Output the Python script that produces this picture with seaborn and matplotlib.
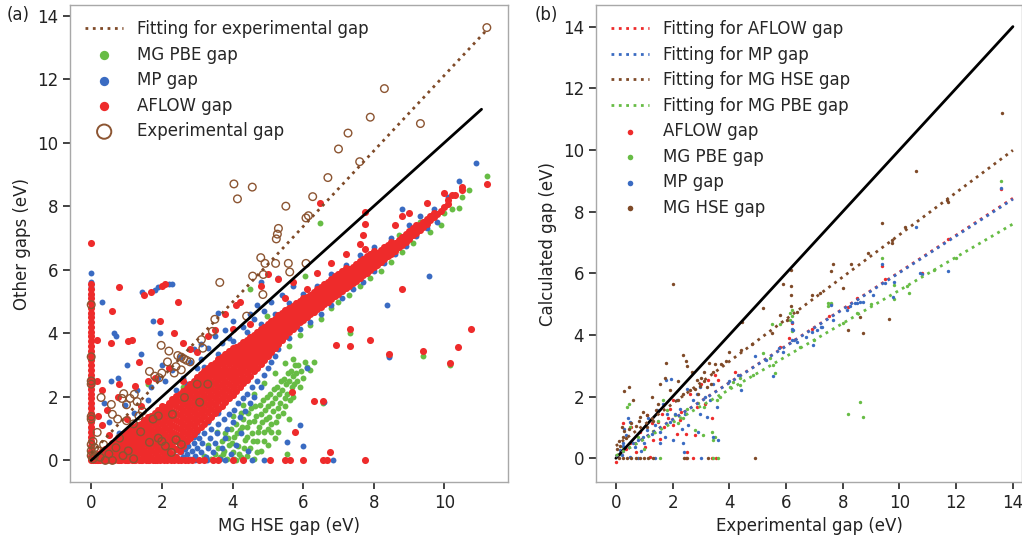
import numpy as np
import pandas as pd
import matplotlib
matplotlib.use('Agg')
import matplotlib.pyplot as plt
import seaborn as sns

sns.set_style('ticks')
plt.rcParams['font.family'] = ['DejaVu Sans']

GREEN = '#67bc45'
BLUE = '#3a6bc2'
RED = '#ee2b2b'
BROWN = '#7f4a28'
CIRCLE = '#8c5532'

# ---------------- panel (a): MG HSE gap vs other gaps ----------------
# dense AFLOW band, read column by column: (hse gap, [aflow gaps])
aflow_band = [
    (0.1, [0.0, 0.06, 0.12]), (0.2, [0.0, 0.1, 0.2]), (0.3, [0.03, 0.15, 0.28]),
    (0.4, [0.0, 0.12, 0.25, 0.37]), (0.5, [0.05, 0.2, 0.33, 0.46]),
    (0.6, [0.0, 0.14, 0.3, 0.44, 0.55]), (0.7, [0.06, 0.22, 0.38, 0.52, 0.64]),
    (0.8, [0.0, 0.16, 0.32, 0.47, 0.62, 0.72]), (0.9, [0.08, 0.25, 0.42, 0.58, 0.74, 0.82]),
    (1.0, [0.0, 0.18, 0.35, 0.52, 0.68, 0.84, 0.93]), (1.1, [0.1, 0.27, 0.45, 0.62, 0.79, 0.95]),
    (1.2, [0.0, 0.2, 0.38, 0.56, 0.74, 0.9, 1.04]), (1.3, [0.12, 0.3, 0.5, 0.68, 0.86, 1.02, 1.12]),
    (1.4, [0.02, 0.22, 0.42, 0.62, 0.8, 0.98, 1.16]), (1.5, [0.14, 0.34, 0.54, 0.74, 0.94, 1.12, 1.26]),
    (1.6, [0.0, 0.24, 0.46, 0.66, 0.86, 1.06, 1.24, 1.36]), (1.7, [0.12, 0.34, 0.56, 0.78, 1.0, 1.2, 1.4]),
    (1.8, [0.02, 0.24, 0.46, 0.68, 0.9, 1.12, 1.32, 1.5]), (1.9, [0.14, 0.36, 0.58, 0.8, 1.02, 1.24, 1.44, 1.6]),
    (2.0, [0.04, 0.26, 0.48, 0.7, 0.92, 1.14, 1.36, 1.56, 1.7]),
    (2.1, [0.16, 0.38, 0.6, 0.82, 1.04, 1.26, 1.48, 1.68]),
    (2.2, [0.06, 0.3, 0.52, 0.74, 0.96, 1.18, 1.4, 1.62, 1.82]),
    (2.3, [0.2, 0.44, 0.66, 0.88, 1.1, 1.32, 1.54, 1.76, 1.92]),
    (2.4, [0.1, 0.36, 0.6, 0.82, 1.04, 1.26, 1.48, 1.7, 1.9, 2.02]),
    (2.5, [0.3, 0.54, 0.76, 0.98, 1.2, 1.42, 1.64, 1.86, 2.08]),
    (2.6, [0.46, 0.7, 0.92, 1.14, 1.36, 1.58, 1.8, 2.02, 2.18]),
    (2.7, [0.6, 0.84, 1.06, 1.28, 1.5, 1.72, 1.94, 2.14, 2.28]),
    (2.8, [0.72, 0.96, 1.18, 1.4, 1.62, 1.84, 2.06, 2.26, 2.4]),
    (2.9, [0.84, 1.08, 1.3, 1.52, 1.74, 1.96, 2.18, 2.38, 2.5]),
    (3.0, [0.96, 1.2, 1.42, 1.64, 1.86, 2.08, 2.3, 2.5, 2.62]),
    (3.1, [1.06, 1.3, 1.52, 1.74, 1.96, 2.18, 2.4, 2.6, 2.72]),
    (3.2, [1.16, 1.4, 1.62, 1.84, 2.06, 2.28, 2.5, 2.7, 2.8]),
    (3.3, [1.28, 1.52, 1.74, 1.96, 2.18, 2.4, 2.62, 2.8, 2.9]),
    (3.4, [1.38, 1.62, 1.84, 2.06, 2.28, 2.5, 2.72, 2.9, 3.0]),
    (3.5, [1.5, 1.74, 1.96, 2.18, 2.4, 2.62, 2.82, 3.0, 3.08]),
    (3.6, [1.62, 1.86, 2.08, 2.3, 2.52, 2.72, 2.92, 3.1, 3.18]),
    (3.7, [1.72, 1.96, 2.18, 2.4, 2.62, 2.82, 3.02, 3.2, 3.26]),
    (3.8, [1.84, 2.06, 2.28, 2.5, 2.72, 2.92, 3.12, 3.28, 3.36]),
    (3.9, [1.96, 2.18, 2.4, 2.62, 2.82, 3.02, 3.22, 3.38, 3.44]),
    (4.0, [2.06, 2.3, 2.52, 2.72, 2.92, 3.12, 3.3, 3.46, 3.54]),
    (4.1, [2.18, 2.42, 2.62, 2.82, 3.02, 3.22, 3.4, 3.56]),
    (4.2, [2.3, 2.52, 2.74, 2.94, 3.12, 3.3, 3.48, 3.64]),
    (4.3, [2.42, 2.64, 2.84, 3.04, 3.22, 3.4, 3.58, 3.72]),
    (4.4, [2.54, 2.76, 2.96, 3.14, 3.32, 3.5, 3.66, 3.8]),
    (4.5, [2.66, 2.88, 3.08, 3.26, 3.44, 3.6, 3.76, 3.88]),
    (4.6, [2.8, 3.0, 3.2, 3.38, 3.54, 3.7, 3.84, 3.96]),
    (4.7, [2.92, 3.12, 3.3, 3.48, 3.64, 3.8, 3.94, 4.04]),
    (4.8, [3.04, 3.24, 3.42, 3.58, 3.74, 3.9, 4.04, 4.12]),
    (4.9, [3.16, 3.36, 3.54, 3.7, 3.86, 4.0, 4.12, 4.2]),
    (5.0, [3.28, 3.48, 3.64, 3.8, 3.96, 4.1, 4.22, 4.3]),
    (5.1, [3.42, 3.6, 3.76, 3.92, 4.06, 4.2, 4.32, 4.38]),
    (5.2, [3.54, 3.72, 3.88, 4.02, 4.16, 4.3, 4.4, 4.46]),
    (5.3, [3.66, 3.84, 4.0, 4.14, 4.28, 4.4, 4.5, 4.56]),
    (5.4, [3.8, 3.96, 4.12, 4.26, 4.38, 4.5, 4.6, 4.64]),
    (5.5, [3.92, 4.08, 4.22, 4.36, 4.48, 4.6, 4.7, 4.72]),
    (5.6, [4.04, 4.2, 4.34, 4.46, 4.58, 4.68, 4.78]),
    (5.7, [4.14, 4.3, 4.44, 4.56, 4.68, 4.78, 4.86]),
    (5.8, [4.24, 4.4, 4.54, 4.66, 4.78, 4.88, 4.94]),
    (5.9, [4.34, 4.5, 4.64, 4.76, 4.88, 4.96, 5.02]),
    (6.0, [4.42, 4.58, 4.72, 4.84, 4.96, 5.06, 5.12]),
    (6.1, [4.52, 4.68, 4.82, 4.94, 5.04, 5.14]), (6.2, [4.6, 4.76, 4.9, 5.02, 5.14, 5.22]),
    (6.3, [4.68, 4.84, 4.98, 5.1, 5.22, 5.3]), (6.4, [4.76, 4.92, 5.06, 5.18, 5.3, 5.38]),
    (6.5, [4.84, 5.0, 5.14, 5.26, 5.38, 5.46]), (6.6, [4.92, 5.08, 5.22, 5.34, 5.46, 5.54]),
    (6.7, [5.0, 5.16, 5.3, 5.42, 5.54, 5.62]), (6.8, [5.08, 5.24, 5.38, 5.5, 5.62, 5.7]),
    (6.9, [5.16, 5.32, 5.46, 5.58, 5.7, 5.8]), (7.0, [5.24, 5.4, 5.54, 5.66, 5.78, 5.88]),
    (7.1, [5.32, 5.48, 5.62, 5.74, 5.86, 5.96]), (7.2, [5.42, 5.56, 5.7, 5.82, 5.94, 6.04]),
    (7.3, [5.5, 5.64, 5.78, 5.9, 6.02]), (7.4, [5.58, 5.72, 5.86, 5.98, 6.1]),
    (7.5, [5.66, 5.8, 5.94, 6.06, 6.18]), (7.6, [5.74, 5.88, 6.02, 6.14, 6.26]),
    (7.7, [5.82, 5.96, 6.1, 6.22, 6.34]), (7.8, [5.9, 6.04, 6.18, 6.3, 6.42]),
    (7.9, [5.98, 6.12, 6.26, 6.38, 6.5]), (8.0, [6.08, 6.22, 6.34, 6.46, 6.58]),
    (8.1, [6.16, 6.3, 6.42, 6.54]), (8.2, [6.24, 6.38, 6.5, 6.62]),
    (8.3, [6.34, 6.46, 6.58, 6.7]), (8.4, [6.42, 6.54, 6.66, 6.78]),
    (8.5, [6.5, 6.64, 6.76, 6.86]), (8.6, [6.6, 6.72, 6.84]), (8.7, [6.7, 6.82, 6.94]),
    (8.8, [6.78, 6.9, 7.04]), (8.9, [6.88, 7.0, 7.12]), (9.0, [6.96, 7.1, 7.22]),
    (9.1, [7.08, 7.2, 7.3]), (9.2, [7.16, 7.3, 7.4]), (9.3, [7.26, 7.4]),
    (9.4, [7.36, 7.5]), (9.5, [7.44, 7.6]), (9.6, [7.56, 7.7]), (9.7, [7.66, 7.8]),
    (9.8, [7.76]), (9.9, [7.86]), (10.0, [7.96]), (10.1, [8.06, 8.2]),
    (10.3, [8.36]), (10.5, [8.5]),
]
# AFLOW points sitting on x = 0 (metals in HSE) and on y = 0
aflow_zero_y = [0.0, 0.15, 0.3, 0.45, 0.6, 0.75, 0.9, 1.05, 1.2, 1.35, 1.5, 1.65, 1.8,
                1.95, 2.1, 2.25, 2.4, 2.55, 2.7, 2.85, 3.0, 3.15, 3.3, 3.45, 3.6, 3.75,
                3.9, 4.05, 4.2, 4.35, 4.5, 4.65, 4.8, 4.95, 5.1, 5.25, 5.4, 5.55, 6.85]
aflow_floor_x = [0.05, 0.15, 0.25, 0.35, 0.45, 0.55, 0.65, 0.75, 0.85, 0.95, 1.05, 1.15,
                 1.25, 1.35, 1.45, 1.55, 1.65, 1.75, 1.85, 1.95, 2.05, 2.15, 2.25, 2.35,
                 2.45, 2.55, 2.65, 2.75, 2.85, 3.05, 3.2, 3.44, 3.6, 4.0, 4.3, 5.06, 5.48,
                 5.63, 6.0, 6.56, 6.68, 7.76]
aflow_scatter = [
    (0.15, 3.8), (0.55, 3.7), (0.6, 4.7), (0.8, 5.45), (1.5, 5.2), (1.7, 5.3), (2.0, 5.5),
    (2.1, 5.55), (2.45, 5.0), (1.05, 3.75), (1.15, 3.78), (1.35, 3.1), (1.95, 4.4),
    (0.8, 2.4), (0.75, 2.0), (1.25, 2.35), (1.6, 2.5), (2.35, 4.0), (3.5, 4.1), (4.2, 5.0),
    (4.1, 4.9), (3.8, 4.6), (4.8, 5.5), (5.0, 5.85), (5.3, 5.7), (5.7, 5.6), (6.48, 8.1),
    (7.76, 7.83), (7.76, 7.45), (7.7, 7.1), (7.75, 6.65), (8.8, 7.7), (10.74, 4.15),
    (10.37, 3.57), (10.15, 3.05), (9.4, 3.45), (8.42, 3.35), (7.9, 3.78), (7.33, 4.13),
    (7.33, 3.6), (6.93, 3.62), (8.8, 5.39), (6.55, 1.86), (6.3, 1.86), (5.77, 0.88),
    (6.76, 0.25), (5.68, 2.14), (0.2, 1.4), (0.45, 1.6), (0.3, 1.1), (0.15, 2.5),
    (0.3, 2.2), (2.6, 3.7), (3.0, 3.4), (2.2, 2.9), (1.8, 2.6), (2.8, 3.5), (3.3, 3.9),
    (4.5, 4.3), (4.0, 4.15), (5.5, 5.1), (6.1, 5.4), (6.4, 5.9), (6.8, 6.2), (7.2, 6.5),
    (7.6, 6.8), (8.6, 7.4), (9.0, 7.8), (9.5, 8.1), (10.0, 8.4), (10.5, 8.6), (11.2, 8.7),
    (10.2, 8.35), (0.5, 0.8), (1.0, 1.3), (1.4, 1.7), (2.6, 2.5),
]

mp_points = [
    # below the AFLOW band
    (2.3, 0.05), (2.4, 0.15), (2.5, 0.05), (2.55, 0.25), (2.6, 0.1), (2.65, 0.35),
    (2.7, 0.2), (2.75, 0.45), (2.8, 0.05), (2.85, 0.3), (2.9, 0.55), (2.95, 0.15),
    (3.0, 0.4), (3.05, 0.7), (3.1, 0.25), (3.15, 0.55), (3.2, 0.85), (3.25, 0.1),
    (3.3, 0.4), (3.35, 0.7), (3.4, 1.0), (3.45, 0.25), (3.5, 0.55), (3.55, 0.85),
    (3.6, 1.15), (3.65, 0.05), (3.7, 0.4), (3.75, 1.3), (3.8, 0.7), (3.85, 1.0),
    (3.9, 1.45), (3.95, 0.2), (4.0, 1.2), (4.05, 1.6), (4.1, 0.5), (4.15, 1.8),
    (4.2, 1.35), (4.25, 0.85), (4.3, 1.95), (4.35, 1.55), (4.4, 2.1), (4.45, 0.3),
    (4.5, 1.8), (4.55, 2.3), (4.6, 2.0), (4.7, 2.5), (4.8, 2.3), (4.9, 2.7), (5.0, 2.9),
    (5.1, 3.1), (5.2, 3.3), (3.3, 1.2), (3.6, 1.5), (3.0, 0.9), (2.9, 0.75),
    # edges of the band
    (5.3, 3.5), (5.6, 3.85), (5.9, 4.15), (6.2, 4.35), (6.5, 4.6), (6.8, 4.9), (7.1, 5.1),
    (7.4, 5.4), (7.7, 5.6), (8.0, 5.95), (8.3, 6.2), (8.6, 6.5), (8.9, 6.75), (9.2, 7.05),
    (9.5, 7.3), (9.8, 7.5), (3.2, 2.95), (3.6, 3.35), (4.0, 3.75), (4.4, 4.05), (4.8, 4.3),
    (5.2, 4.6), (5.6, 4.95), (6.0, 5.25), (6.4, 5.5), (6.8, 5.85), (7.2, 6.15), (7.6, 6.45),
    (8.0, 6.7), (8.5, 7.0), (9.0, 7.4), (9.3, 7.7), (9.7, 7.9), (10.1, 8.3), (10.4, 8.8),
    (10.9, 9.35),
    # above the band
    (0.3, 5.0), (0.65, 4.0), (0.7, 3.9), (1.45, 5.3), (1.8, 5.35), (1.9, 5.45), (2.2, 5.55),
    (2.3, 5.55), (1.75, 4.4), (1.95, 4.0), (1.4, 3.35), (1.0, 3.0), (0.75, 2.6), (0.55, 2.5),
    (0.35, 1.8), (0.5, 1.2), (0.95, 1.75), (1.2, 1.5), (1.3, 2.2), (1.6, 1.9), (1.7, 2.3),
    (1.9, 2.6), (2.1, 2.5), (2.0, 3.0), (2.3, 2.85), (2.5, 3.25), (2.6, 2.6), (2.8, 3.1),
    (2.9, 3.5), (3.1, 3.2), (3.3, 3.55), (3.5, 3.9), (3.7, 3.7), (3.8, 4.1), (4.0, 4.4),
    (4.3, 4.2), (4.5, 4.6), (4.7, 4.9), (3.6, 4.65), (3.0, 2.9), (2.7, 2.4), (1.1, 0.95),
    (0.8, 0.85), (2.4, 2.2), (3.9, 3.85), (4.6, 4.45), (4.9, 4.7), (5.1, 5.0), (5.4, 5.2),
    (5.7, 5.5), (4.8, 5.6), (5.3, 5.75), (3.1, 3.65),
    # x = 0 and y = 0
    (0.0, 5.9), (0.0, 5.6), (0.0, 5.45), (0.0, 5.2), (0.0, 4.6), (0.0, 4.2), (0.0, 3.3),
    (0.0, 2.6), (0.0, 2.2), (0.0, 1.7), (0.0, 1.0), (0.0, 0.6), (0.0, 0.3), (0.05, 0.1),
    (3.27, 0.0), (3.44, 0.0), (4.0, 0.0), (4.3, 0.0), (4.55, 0.0), (4.9, 0.0), (6.85, 0.0),
    (2.95, 0.0), (3.8, 0.0),
    # outliers
    (9.55, 5.8), (8.38, 4.9), (8.42, 3.25), (8.8, 7.9), (5.9, 1.1), (6.0, 0.45),
    (5.53, 0.57), (6.1, 2.9), (6.6, 1.85),
]

pbe_points = [
    (3.4, 0.05), (3.5, 0.2), (3.6, 0.4), (3.65, 0.1), (3.7, 0.6), (3.75, 0.3), (3.8, 0.85),
    (3.85, 0.05), (3.9, 0.5), (3.95, 1.0), (4.0, 0.25), (4.05, 0.75), (4.1, 1.15),
    (4.15, 0.45), (4.2, 0.95), (4.25, 0.1), (4.3, 1.3), (4.35, 0.65), (4.4, 1.05),
    (4.45, 1.5), (4.5, 0.4), (4.55, 0.85), (4.6, 1.25), (4.65, 1.7), (4.7, 0.6),
    (4.75, 1.05), (4.8, 1.45), (4.85, 1.9), (4.9, 0.9), (4.95, 1.3), (5.0, 1.7),
    (5.05, 2.1), (5.1, 1.15), (5.15, 1.55), (5.2, 1.95), (5.25, 2.3), (5.3, 1.4),
    (5.35, 1.8), (5.4, 2.2), (5.45, 2.55), (5.5, 1.7), (5.55, 2.1), (5.6, 2.5),
    (5.65, 2.8), (5.7, 2.0), (5.75, 2.4), (5.8, 2.75), (5.85, 3.0), (5.9, 2.3), (6.0, 2.6),
    (6.1, 2.95), (6.2, 2.85), (4.0, 1.4), (4.3, 1.75), (4.6, 2.1), (4.1, 0.0), (4.6, 0.05),
    (5.0, 0.5), (4.8, 0.3), (5.3, 0.9), (5.6, 1.3), (5.2, 0.7), (3.3, 0.5), (3.55, 0.9),
    (3.2, 0.15), (5.5, 3.05), (5.2, 2.75), (4.9, 2.45), (5.7, 3.2), (6.3, 3.1),
    (3.72, 0.2), (3.88, 0.72), (3.98, 0.55), (4.12, 0.85), (4.18, 0.2), (4.27, 1.05),
    (4.33, 0.4), (4.42, 0.75), (4.48, 1.2), (4.52, 1.65), (4.58, 0.6), (4.67, 1.4),
    (4.72, 0.9), (4.78, 1.75), (4.83, 1.2), (4.88, 0.6), (4.93, 1.6), (4.98, 2.0),
    (5.03, 1.35), (5.08, 0.9), (5.12, 1.8), (5.18, 2.25), (5.23, 1.2), (5.28, 1.65),
    (5.33, 2.1), (5.38, 2.5), (5.43, 1.5), (5.48, 1.95), (5.52, 2.4), (5.58, 2.75),
    (5.62, 1.9), (5.68, 2.3), (5.72, 2.65), (5.78, 3.0), (5.82, 2.5), (5.95, 2.8),
    (6.05, 3.1), (4.4, 0.15), (4.7, 0.25), (5.0, 1.0), (4.25, 1.5), (4.05, 0.05),
    (5.6, 3.6), (5.9, 3.95), (6.2, 4.25), (6.5, 4.45), (6.8, 4.8), (7.0, 5.0), (7.3, 5.2),
    (7.6, 5.5), (7.9, 5.75), (8.2, 5.95), (8.5, 6.25), (8.8, 6.55), (9.1, 6.85),
    (9.3, 7.5), (9.6, 7.2), (9.9, 7.4), (10.0, 7.8), (10.2, 7.9), (10.4, 7.95),
    (10.5, 8.3), (10.7, 8.5), (11.2, 8.95), (7.8, 6.35), (8.7, 7.1),
    (6.48, 7.48), (7.33, 4.0), (9.4, 3.3), (10.15, 3.0), (8.42, 3.3), (6.55, 1.8),
    (5.53, 0.2), (6.05, 5.8), (4.5, 5.39), (4.97, 4.54), (1.6, 2.4), (2.6, 2.3),
]

exp_points = [
    (11.2, 13.62), (8.3, 11.7), (7.9, 10.8), (9.32, 10.6), (7.27, 10.3), (7.0, 9.8),
    (7.6, 9.4), (6.7, 8.9), (4.04, 8.7), (4.14, 8.23), (4.56, 8.6), (6.27, 8.3),
    (5.51, 8.0), (6.08, 7.63), (6.15, 7.7), (5.3, 7.3), (5.27, 7.12), (5.24, 6.97),
    (4.8, 6.38), (4.92, 6.2), (5.22, 6.2), (5.58, 6.2), (6.08, 6.2), (4.57, 5.8),
    (4.87, 5.85), (5.62, 5.93), (3.64, 5.6), (4.86, 5.22), (4.4, 4.54), (3.5, 4.44),
    (3.43, 4.06), (3.12, 3.8), (3.16, 3.53), (1.98, 3.62), (2.2, 3.44), (2.45, 3.3),
    (2.55, 3.25), (2.62, 3.2), (2.7, 3.15), (2.8, 3.1), (2.4, 2.95), (2.55, 2.85),
    (2.35, 2.75), (2.0, 2.75), (1.8, 2.65), (1.92, 2.6), (2.16, 3.1), (1.65, 2.8),
    (1.22, 2.08), (1.0, 1.75), (1.1, 1.95), (1.3, 1.85), (0.28, 1.98), (0.92, 2.1),
    (0.87, 1.95), (0.57, 1.76), (0.6, 1.45), (0.75, 1.3), (1.0, 1.25), (1.2, 1.15),
    (1.45, 1.55), (1.35, 1.4), (3.07, 1.83), (2.64, 1.98), (2.3, 1.45), (1.9, 1.4),
    (1.75, 1.3), (1.65, 0.57), (2.0, 0.6), (2.1, 0.45), (2.27, 0.25), (1.9, 0.7),
    (0.9, 0.15), (1.05, 0.3), (1.2, 0.05), (0.7, 0.4), (0.5, 0.2), (0.35, 0.5),
    (0.17, 0.88), (0.2, 0.3), (0.1, 0.15), (0.05, 0.05), (0.25, 0.1), (0.4, 0.0),
    (0.6, 0.0), (0.0, 4.9), (0.0, 3.26), (0.0, 2.5), (0.0, 2.4), (0.0, 1.38), (0.0, 1.3),
    (0.0, 0.5), (0.0, 0.3), (0.0, 0.15), (0.05, 0.6), (0.1, 0.4), (0.8, 0.7), (1.4, 0.9),
    (2.55, 0.5), (2.4, 0.65), (3.0, 2.4), (3.3, 2.4),
]
exp_fit = (1.19, 0.22)        # slope, intercept
exp_fit_range = [0.0, 11.2]
identity_a = [0.0, 11.05]

# ---------------- panel (b): experimental gap vs calculated gaps ----------------
b_hse = [
    (2.0, 5.65), (2.36, 3.35), (2.47, 3.15), (2.51, 3.0), (1.76, 3.08), (0.46, 2.3),
    (0.28, 2.17), (0.6, 1.88), (1.55, 2.42), (1.74, 2.6), (1.27, 2.0), (1.09, 1.4),
    (0.95, 1.5), (0.85, 1.35), (0.8, 1.2), (0.7, 1.05), (0.55, 1.15), (0.45, 0.95),
    (0.3, 0.9), (0.25, 0.7), (0.2, 1.0), (1.1, 1.0), (1.3, 1.2), (2.7, 2.8), (2.85, 2.55),
    (3.0, 2.6), (3.1, 2.5), (2.95, 2.35), (2.8, 2.25), (2.9, 2.1), (3.2, 2.3), (3.42, 2.8),
    (2.6, 2.2), (2.36, 2.1), (2.19, 1.88), (3.3, 3.1), (3.36, 2.4), (0.1, 0.55),
    (0.15, 0.4), (0.35, 0.65), (0.05, 0.3), (1.5, 1.75), (1.9, 2.2), (2.2, 2.5),
    (1.4, 1.55), (3.5, 3.05), (3.1, 2.8), (0.1, 0.0), (0.25, 0.0), (0.4, 0.0), (0.55, 0.0),
    (0.7, 0.0), (0.85, 0.0), (1.0, 0.0), (1.15, 0.0), (1.3, 0.0), (2.4, 0.0), (2.5, 0.0),
    (3.25, 0.0), (4.9, 0.0), (13.6, 11.2), (10.58, 9.32), (9.4, 7.63), (9.72, 7.08),
    (9.72, 6.98), (11.67, 8.38), (11.7, 8.3), (8.9, 6.66), (7.65, 6.3), (7.58, 6.08),
    (8.29, 6.3), (8.0, 5.52), (6.9, 5.3), (7.2, 5.35), (5.9, 5.65), (6.17, 6.1),
    (6.17, 5.6), (6.17, 5.3), (6.17, 4.95), (5.2, 4.87), (5.78, 4.64), (6.03, 4.48),
    (6.38, 4.74), (8.18, 4.16), (8.7, 4.05), (9.63, 4.51), (8.6, 4.58), (4.44, 4.43),
    (4.0, 3.45), (4.4, 3.5), (3.7, 3.05), (3.9, 3.15), (4.8, 3.7), (5.5, 4.05), (10.2, 7.5),
]
b_mp = [
    (1.76, 2.53), (1.93, 2.58), (0.44, 1.29), (0.49, 1.18), (1.08, 0.93), (0.96, 0.69),
    (1.26, 0.8), (1.38, 1.07), (1.55, 0.85), (1.73, 0.69), (1.9, 1.18), (2.08, 1.45),
    (2.26, 1.61), (2.44, 1.45), (2.55, 1.07), (2.73, 1.88), (2.85, 2.1), (2.96, 2.32),
    (3.14, 1.99), (3.32, 1.88), (3.44, 2.42), (3.55, 1.67), (3.61, 0.58), (3.44, 0.69),
    (2.96, 1.45), (0.14, 0.26), (0.26, 0.48), (0.67, 0.37), (0.79, 0.58), (1.55, 0.48),
    (2.02, 0.58), (2.32, 0.96), (0.79, 0.0), (1.38, 0.0), (2.38, 0.48), (2.9, 0.85),
    (3.2, 1.34), (1.14, 1.29), (1.44, 1.56), (1.67, 1.77), (0.3, 0.95), (0.35, 0.75),
    (0.6, 0.5), (0.9, 0.25), (0.2, 0.1), (0.5, 0.05), (1.0, 0.5), (2.15, 1.9), (2.5, 2.25),
    (1.8, 1.45), (0.25, 0.4), (2.4, 0.2), (3.0, 0.0), (4.91, 3.31), (5.55, 2.66),
    (5.9, 3.45), (6.2, 4.43), (6.2, 3.83), (6.26, 4.16), (6.38, 3.78), (6.9, 4.1),
    (6.96, 3.67), (7.26, 4.26), (7.67, 4.48), (8.14, 4.8), (8.44, 5.04), (8.73, 5.08),
    (9.08, 5.29), (9.49, 5.67), (9.79, 5.73), (10.73, 6.0), (11.7, 6.07), (13.58, 8.76),
    (10.58, 7.51), (9.4, 6.3), (10.78, 5.98), (9.77, 5.24), (8.6, 5.08), (8.49, 5.02),
    (8.25, 4.93), (7.57, 4.97), (7.23, 4.27), (7.08, 4.16), (6.72, 3.93), (6.29, 3.85),
    (5.76, 3.56), (4.4, 2.2), (4.0, 2.5), (4.3, 2.7), (5.3, 3.2), (6.2, 4.2),
]
b_aflow = [
    (1.08, 1.4), (1.26, 1.13), (1.49, 1.18), (1.61, 1.45), (1.85, 1.29), (2.02, 1.07),
    (2.14, 0.8), (2.26, 1.23), (2.49, 0.8), (2.79, 0.75), (2.85, 1.67), (3.14, 1.77),
    (3.38, 1.29), (3.49, 2.69), (3.61, 2.53), (3.26, 2.53), (1.02, 0.37), (1.55, 0.64),
    (0.85, 0.85), (0.55, 1.02), (0.26, 1.13), (0.0, -0.12), (2.47, 0.0), (2.73, 0.0),
    (3.53, 0.0), (3.38, 0.0), (0.5, 0.5), (0.7, 0.2), (1.3, 0.6), (1.7, 1.0), (2.3, 1.5),
    (2.0, 1.9), (2.6, 2.1), (3.0, 2.4), (1.9, 1.6), (0.35, 0.3), (2.5, 0.2), (1.2, 0.05),
    (5.8, 3.6), (4.2, 2.8), (6.1, 3.9), (6.9, 4.2), (7.5, 4.6), (8.5, 5.2), (9.5, 5.8),
    (10.78, 6.0), (11.7, 7.1), (13.58, 8.73), (9.4, 6.25), (7.57, 5.0), (6.2, 4.4),
    (8.2, 4.9),
]
b_pbe = [
    (0.47, 1.77), (0.38, 1.67), (0.49, 1.02), (0.79, 0.69), (1.79, 1.56), (2.08, 1.4),
    (2.38, 1.29), (2.79, 0.91), (3.08, 0.75), (3.38, 0.85), (3.49, 0.69), (3.44, 0.58),
    (3.44, 0.0), (3.61, 0.0), (3.55, 1.88), (3.67, 1.99), (4.02, 2.32), (4.14, 2.48),
    (4.38, 2.59), (4.38, 2.37), (4.85, 2.69), (5.2, 3.4), (5.44, 3.24), (5.55, 3.02),
    (6.14, 4.7), (6.14, 4.48), (5.49, 4.37), (1.55, 0.0), (0.26, 0.37), (1.67, 1.88),
    (1.0, 0.3), (1.3, 0.9), (2.5, 1.6), (2.2, 1.15), (1.5, 1.2), (0.15, 0.15), (2.9, 1.8),
    (3.1, 1.65), (5.79, 4.37), (7.49, 5.02), (7.49, 4.94), (9.79, 5.62), (9.79, 5.18),
    (10.32, 5.35), (10.26, 5.59), (8.2, 1.45), (8.6, 1.83), (8.73, 1.35), (13.58, 8.98),
    (9.4, 6.5), (7.57, 5.03), (6.2, 4.8), (6.2, 4.6), (6.2, 4.14), (5.6, 2.75),
    (6.5, 3.6), (7.0, 3.85), (8.0, 4.4), (8.5, 4.7), (9.0, 5.0), (11.2, 6.1), (12.0, 6.5),
]
# linear fits: slope, intercept
fits_b = {
    'AFLOW': (0.598, 0.06),
    'MP': (0.596, 0.06),
    'MG HSE': (0.685, 0.40),
    'MG PBE': (0.537, 0.08),
}
fit_range_b = [0.0, 14.0]
identity_b = [0.0, 14.0]


def xy(points):
    arr = np.array(points, dtype=float)
    return arr[:, 0], arr[:, 1]


band_x = [x for x, ys in aflow_band for _ in ys]
band_y = [y for _, ys in aflow_band for y in ys]
aflow_x = np.concatenate([band_x, np.zeros(len(aflow_zero_y)), aflow_floor_x, xy(aflow_scatter)[0]])
aflow_y = np.concatenate([band_y, aflow_zero_y, np.zeros(len(aflow_floor_x)), xy(aflow_scatter)[1]])

fig = plt.figure(figsize=(10.22, 5.4), dpi=100)
ax1 = fig.add_axes([0.0685, 0.1074, 0.4286, 0.8833])
ax2 = fig.add_axes([0.5832, 0.1074, 0.4168, 0.8833])

leg_kw = dict(loc='upper left', frameon=False, fontsize=12, labelspacing=0.45,
              handlelength=2.3, handletextpad=0.8, borderaxespad=0.5)

# panel (a)
px, py = xy(pbe_points)
sns.scatterplot(x=px, y=py, ax=ax1, color=GREEN, s=18, linewidth=0, label='MG PBE gap')
mx, my = xy(mp_points)
sns.scatterplot(x=mx, y=my, ax=ax1, color=BLUE, s=18, linewidth=0, label='MP gap')
sns.scatterplot(x=aflow_x, y=aflow_y, ax=ax1, color=RED, s=26, linewidth=0, label='AFLOW gap')
ex, ey = xy(exp_points)
sns.scatterplot(x=ex, y=ey, ax=ax1, marker='o', s=30, facecolor='none', edgecolor=CIRCLE,
                linewidth=1.0, label='Experimental gap')
ax1.plot(identity_a, identity_a, color='black', lw=2)
fx = np.array(exp_fit_range)
ax1.plot(fx, exp_fit[0] * fx + exp_fit[1], ls=':', color=BROWN, lw=2,
         label='Fitting for experimental gap')

ax1.set_xlim(-0.6, 11.8)
ax1.set_ylim(-0.68, 14.33)
ax1.set_xticks([0, 2, 4, 6, 8, 10])
ax1.set_yticks([0, 2, 4, 6, 8, 10, 12, 14])
ax1.set_xlabel('MG HSE gap (eV)', fontsize=12)
ax1.set_ylabel('Other gaps (eV)', fontsize=12)

order_a = ['Fitting for experimental gap', 'MG PBE gap', 'MP gap', 'AFLOW gap', 'Experimental gap']
h, l = ax1.get_legend_handles_labels()
hd = dict(zip(l, h))
leg = ax1.legend([hd[k] for k in order_a], order_a, **leg_kw)
for hnd in leg.legend_handles[1:4]:
    hnd.set_sizes([45])
leg.legend_handles[4].set_sizes([105])
leg.legend_handles[4].set_linewidth(1.4)

# panel (b)
for pts, col, lab in [(b_aflow, RED, 'AFLOW gap'), (b_pbe, GREEN, 'MG PBE gap'),
                      (b_mp, BLUE, 'MP gap'), (b_hse, BROWN, 'MG HSE gap')]:
    bx, by = xy(pts)
    sns.scatterplot(x=bx, y=by, ax=ax2, color=col, s=6, linewidth=0, label=lab)

ax2.plot(identity_b, identity_b, color='black', lw=2)
fxb = np.array(fit_range_b)
for name, col in [('AFLOW', RED), ('MP', BLUE), ('MG HSE', BROWN), ('MG PBE', GREEN)]:
    k, b0 = fits_b[name]
    ax2.plot(fxb, k * fxb + b0, ls=':', color=col, lw=2, label='Fitting for %s gap' % name)

ax2.set_xlim(-0.7, 14.32)
ax2.set_ylim(-0.77, 14.7)
ax2.set_xticks([0, 2, 4, 6, 8, 10, 12, 14])
ax2.set_yticks([0, 2, 4, 6, 8, 10, 12, 14])
ax2.set_xlabel('Experimental gap (eV)', fontsize=12)
ax2.set_ylabel('Calculated gap (eV)', fontsize=12)

order_b = ['Fitting for AFLOW gap', 'Fitting for MP gap', 'Fitting for MG HSE gap',
           'Fitting for MG PBE gap', 'AFLOW gap', 'MG PBE gap', 'MP gap', 'MG HSE gap']
h, l = ax2.get_legend_handles_labels()
hd = dict(zip(l, h))
leg = ax2.legend([hd[k] for k in order_b], order_b, **leg_kw)
for hnd in leg.legend_handles[4:]:
    hnd.set_sizes([16])

for ax in (ax1, ax2):
    for sp in ax.spines.values():
        sp.set_visible(True)
        sp.set_color('#a8a8a8')
        sp.set_linewidth(1.0)
    ax.tick_params(direction='out', length=5, width=1.2, color='#222222',
                   labelsize=12, labelcolor='#222222')
    ax.xaxis.label.set_color('#222222')
    ax.yaxis.label.set_color('#222222')

fig.text(0.006, 0.972, '(a)', fontsize=12, va='center', color='#222222')
fig.text(0.523, 0.972, '(b)', fontsize=12, va='center', color='#222222')

fig.savefig('out.png', dpi=100)
